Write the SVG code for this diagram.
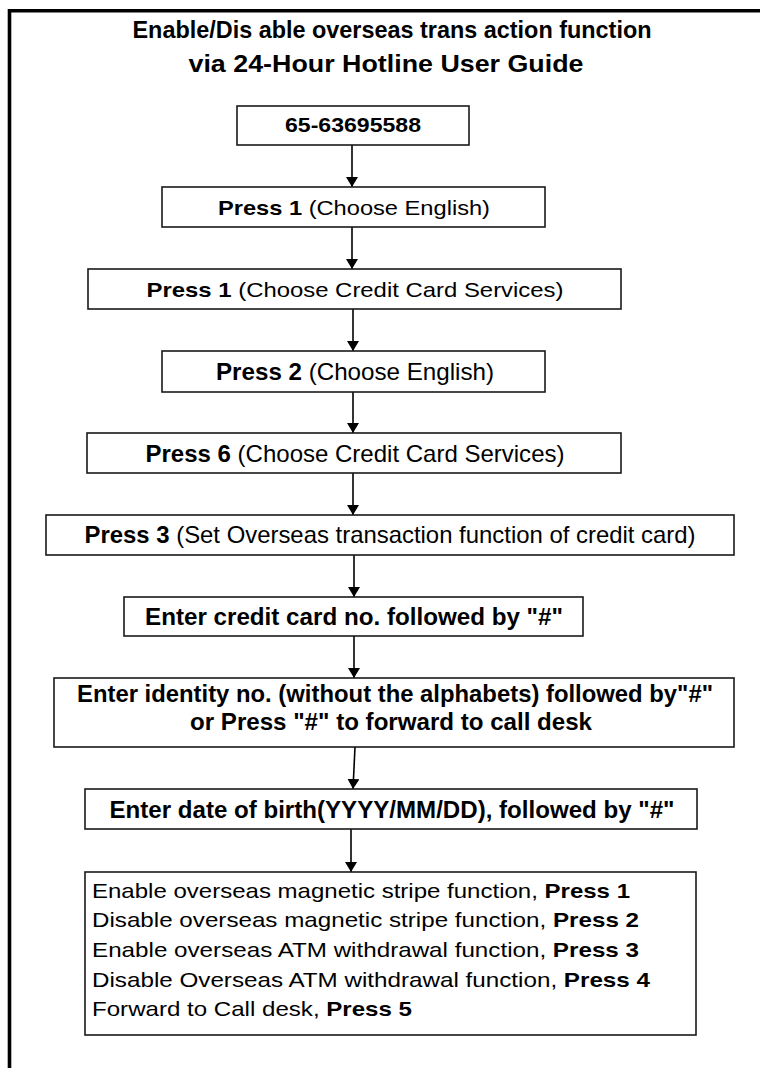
<svg xmlns="http://www.w3.org/2000/svg" width="760" height="1068" viewBox="0 0 760 1068">
<defs>
<style>
.box{fill:#fff;stroke:#1a1a1a;stroke-width:1.6}
.t{font-family:"Liberation Sans",Arial,sans-serif;font-size:21px;fill:#000;text-anchor:middle}
.n{font-family:"Liberation Sans Narrow","Liberation Sans",Arial,sans-serif;font-size:24px;fill:#000;text-anchor:middle}
.l{font-family:"Liberation Sans",Arial,sans-serif;font-size:21px;fill:#000}
.b{font-weight:bold}
.ttl{font-family:"Liberation Sans Narrow","Liberation Sans",Arial,sans-serif;font-size:24px;font-weight:bold;fill:#000;text-anchor:middle}
.c{stroke:#000;stroke-width:1.6;fill:none}
</style>
<marker id="ah" viewBox="0 0 10 12" refX="10" refY="6" markerWidth="10" markerHeight="12" markerUnits="userSpaceOnUse" orient="auto">
<path d="M0,0 L10,6 L0,12 Z" fill="#000"/>
</marker>
</defs>
<rect width="760" height="1068" fill="#fff"/>
<path d="M9.5,1068 V10.8 H760" fill="none" stroke="#000" stroke-width="3.6"/>
<g id="title">
<text class="ttl" x="392" y="38" textLength="519" lengthAdjust="spacingAndGlyphs">Enable/Dis able overseas trans action function</text>
<text class="ttl" x="386" y="72" textLength="395" lengthAdjust="spacingAndGlyphs">via 24-Hour Hotline User Guide</text>
</g>
<g id="connectors">
<line class="c" x1="352" y1="145" x2="352" y2="187" marker-end="url(#ah)"/>
<line class="c" x1="352" y1="227" x2="352" y2="269" marker-end="url(#ah)"/>
<line class="c" x1="353" y1="309" x2="353" y2="351" marker-end="url(#ah)"/>
<line class="c" x1="353" y1="392" x2="353" y2="433" marker-end="url(#ah)"/>
<line class="c" x1="353" y1="473" x2="353" y2="515" marker-end="url(#ah)"/>
<line class="c" x1="354" y1="555" x2="354" y2="597" marker-end="url(#ah)"/>
<line class="c" x1="354" y1="636" x2="354" y2="678" marker-end="url(#ah)"/>
<line class="c" x1="355" y1="747" x2="353" y2="789" marker-end="url(#ah)"/>
<line class="c" x1="351" y1="829" x2="351" y2="872" marker-end="url(#ah)"/>
</g>
<g id="n1">
<rect class="box" x="237" y="106" width="232" height="39"/>
<text class="t b" x="353" y="132" textLength="136" lengthAdjust="spacingAndGlyphs">65-63695588</text>
</g>
<g id="n2">
<rect class="box" x="162" y="187" width="383" height="40"/>
<text class="t" x="354" y="215" textLength="272" lengthAdjust="spacingAndGlyphs"><tspan class="b">Press 1</tspan> (Choose English)</text>
</g>
<g id="n3">
<rect class="box" x="88" y="269" width="533" height="40"/>
<text class="t" x="355" y="297" textLength="417" lengthAdjust="spacingAndGlyphs"><tspan class="b">Press 1</tspan> (Choose Credit Card Services)</text>
</g>
<g id="n4">
<rect class="box" x="162" y="351" width="383" height="41"/>
<text class="n" x="355" y="380" textLength="278" lengthAdjust="spacingAndGlyphs"><tspan class="b">Press 2</tspan> (Choose English)</text>
</g>
<g id="n5">
<rect class="box" x="87" y="433" width="534" height="40"/>
<text class="n" x="355" y="462" textLength="419" lengthAdjust="spacingAndGlyphs"><tspan class="b">Press 6</tspan> (Choose Credit Card Services)</text>
</g>
<g id="n6">
<rect class="box" x="46" y="515" width="688" height="40"/>
<text class="n" x="390" y="543" textLength="611" lengthAdjust="spacingAndGlyphs"><tspan class="b">Press 3</tspan> (Set Overseas transaction function of credit card)</text>
</g>
<g id="n7">
<rect class="box" x="124" y="597" width="459" height="39"/>
<text class="n b" x="354" y="625" textLength="418" lengthAdjust="spacingAndGlyphs">Enter credit card no. followed by "#"</text>
</g>
<g id="n8">
<rect class="box" x="54" y="678" width="680" height="69"/>
<text class="n b" x="395" y="702" textLength="636" lengthAdjust="spacingAndGlyphs">Enter identity no. (without the alphabets) followed by"#"</text>
<text class="n b" x="391" y="730" textLength="402" lengthAdjust="spacingAndGlyphs">or Press "#" to forward to call desk</text>
</g>
<g id="n9">
<rect class="box" x="85" y="789" width="612" height="40"/>
<text class="n b" x="392" y="818" textLength="565" lengthAdjust="spacingAndGlyphs">Enter date of birth(YYYY/MM/DD), followed by "#"</text>
</g>
<g id="n10">
<rect class="box" x="85" y="872" width="611" height="163"/>
<text class="l" x="92" y="898" textLength="538" lengthAdjust="spacingAndGlyphs">Enable overseas magnetic stripe function, <tspan class="b">Press 1</tspan></text>
<text class="l" x="92" y="927" textLength="547" lengthAdjust="spacingAndGlyphs">Disable overseas magnetic stripe function, <tspan class="b">Press 2</tspan></text>
<text class="l" x="92" y="957" textLength="547" lengthAdjust="spacingAndGlyphs">Enable overseas ATM withdrawal function, <tspan class="b">Press 3</tspan></text>
<text class="l" x="92" y="987" textLength="558" lengthAdjust="spacingAndGlyphs">Disable Overseas ATM withdrawal function, <tspan class="b">Press 4</tspan></text>
<text class="l" x="92" y="1016" textLength="320" lengthAdjust="spacingAndGlyphs">Forward to Call desk, <tspan class="b">Press 5</tspan></text>
</g>
</svg>
